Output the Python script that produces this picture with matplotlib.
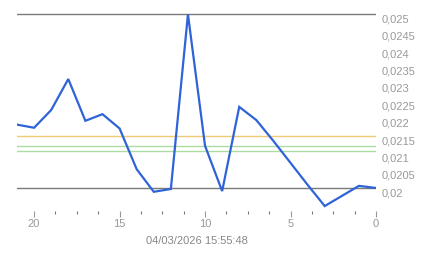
import matplotlib
matplotlib.use("Agg")
import matplotlib.pyplot as plt
from matplotlib.ticker import MultipleLocator, FuncFormatter

# Data (x counts down from 21 to 0)
x_vals = list(range(21, -1, -1))
y_vals = [0.02183, 0.02174, 0.02225, 0.02314, 0.02194, 0.02213, 0.02172,
          0.02055, 0.01990, 0.01998, 0.02500, 0.02122, 0.01992, 0.02234,
          0.02196, 0.02136, 0.02073, 0.02010, 0.01949, 0.01978, 0.02007, 0.02001]

gray_levels = [0.025, 0.020]
yellow_level = 0.02149
green_levels = [0.02121, 0.02106]
y_ticks = [0.020, 0.0205, 0.021, 0.0215, 0.022, 0.0225, 0.023, 0.0235, 0.024, 0.0245, 0.025]
x_label = "04/03/2026 15:55:48"

plt.rcParams['font.family'] = ['Liberation Sans', 'DejaVu Sans']

W, H = 443, 258
fig = plt.figure(figsize=(W / 100, H / 100), dpi=100)
left, right, top, bottom = 17, 376, 0, 211
ax = fig.add_axes([left / W, 1 - bottom / H, (right - left) / W, (bottom - top) / H])

ax.set_xlim(21, 0)
ax.set_ylim(0.019348, 0.025411)

for g in gray_levels:
    ax.axhline(g, color='#7a7a7a', lw=1.0, zorder=1)
ax.axhline(yellow_level, color='#efcb74', lw=1.0, zorder=1)
for g in green_levels:
    ax.axhline(g, color='#acdda0', lw=1.0, zorder=1)

ax.plot(x_vals, y_vals, color='#2f63d8', lw=1.6, zorder=3, solid_joinstyle='miter')

for s in ax.spines.values():
    s.set_visible(False)

ax.xaxis.set_major_locator(MultipleLocator(5))
ax.xaxis.set_minor_locator(MultipleLocator(1.25))
ax.tick_params(axis='x', which='major', length=4, width=0.8, color='#999999',
               labelsize=8, labelcolor='#999999', pad=1.5)
ax.tick_params(axis='x', which='minor', length=2, width=0.8, color='#777777')

ax.yaxis.tick_right()
ax.set_yticks(y_ticks)
ax.yaxis.set_major_formatter(FuncFormatter(lambda v, p: ('%g' % v).replace('.', ',')))
ax.tick_params(axis='y', length=0, labelsize=8, labelcolor='#999999', pad=4)
for lab in ax.get_yticklabels():
    lab.set_va('top')

ax.set_xlabel(x_label, fontsize=8, color='#888888', labelpad=5.5)

fig.savefig('out.png', dpi=100, facecolor='white')
